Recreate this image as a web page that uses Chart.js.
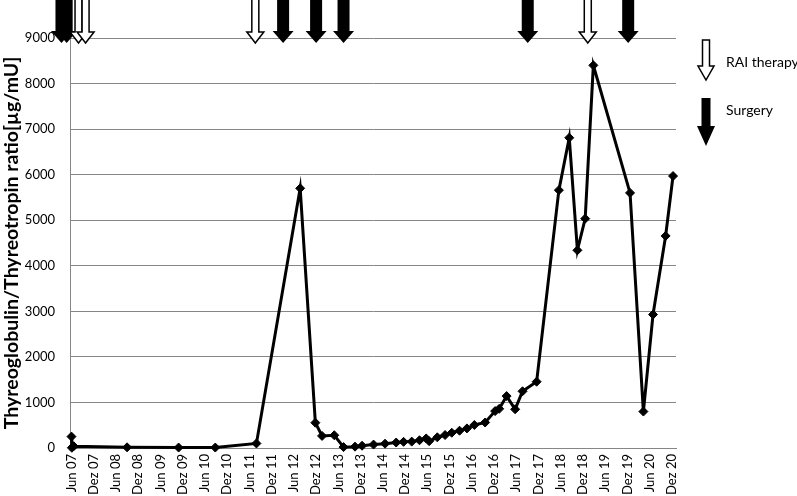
<!DOCTYPE html>
<html><head><meta charset="utf-8">
<script src="https://cdn.jsdelivr.net/npm/chart.js@4/dist/chart.umd.min.js"></script>
<style>html,body{margin:0;padding:0;background:#fff}#wrap{width:797px;height:496px;position:relative}</style>
</head><body><div id="wrap"><canvas id="c" width="797" height="496"></canvas></div>
<script>
// x values are months since June 2007
const tickMonths = [0,6,12,18,24,30,36,42,48,54,60,66,72,78,84,90,96,102,108,114,120,126,132,138,144,150,156,162];
const tickLabels = ["Jun 07","Dez 07","Jun 08","Dez 08","Jun 09","Dez 09","Jun 10","Dez 10","Jun 11","Dez 11","Jun 12","Dez 12","Jun 13","Dez 13","Jun 14","Dez 14","Jun 15","Dez 15","Jun 16","Dez 16","Jun 17","Dez 17","Jun 18","Dez 18","Jun 19","Dez 19","Jun 20","Dez 20"];
const sampleMonths = [0,0.1,0.6,15.0,28.9,38.8,49.9,61.7,65.8,67.6,70.9,73.4,76.5,78.4,81.5,84.6,87.6,89.6,91.8,93.9,95.7,96.5,98.7,100.8,102.6,104.7,106.7,108.7,111.6,114.3,115.4,117.4,119.7,121.7,125.5,131.5,134.3,136.5,138.6,140.8,150.7,154.3,156.9,160.3,162.3];
const ratioValues = [250,5,40,15,10,10,100,5700,555,265,280,20,30,50,75,95,120,135,140,170,210,150,235,285,335,380,430,505,560,810,860,1140,850,1245,1455,5660,6810,4340,5035,8400,5600,800,2930,4655,5970];
const raiMonths = [1.9,3.8,49.6,139.3];
const surgeryMonths = [-2.7,-1.3,57.1,66.0,73.4,123.1,150.2];
const legendLabels = ["RAI therapy","Surgery"];
const yTitle = "Thyreoglobulin/Thyreotropin ratio[µg/mU]";

Chart.defaults.font.family = 'Lato';
Chart.defaults.color = '#000';
const GRID = '#868686';

function drawArrow(ctx, cx, top, tip, shaftW, headW, headH, filled) {
  ctx.beginPath();
  ctx.moveTo(cx - shaftW/2, top);
  ctx.lineTo(cx + shaftW/2, top);
  ctx.lineTo(cx + shaftW/2, tip - headH);
  ctx.lineTo(cx + headW/2, tip - headH);
  ctx.lineTo(cx, tip);
  ctx.lineTo(cx - headW/2, tip - headH);
  ctx.lineTo(cx - shaftW/2, tip - headH);
  ctx.closePath();
  if (filled) { ctx.fillStyle = '#000'; ctx.fill(); }
  else { ctx.fillStyle = '#fff'; ctx.fill(); ctx.lineWidth = 1.5; ctx.strokeStyle = '#000'; ctx.stroke(); }
}

const arrowPlugin = {
  id: 'arrows',
  afterDraw(chart) {
    const ctx = chart.ctx, xs = chart.scales.x, ca = chart.chartArea;
    ctx.save();
    const tip = ca.top + 5;
    surgeryMonths.forEach(m => drawArrow(ctx, xs.getPixelForValue(m), -2, tip, 12, 21, 12, true));
    raiMonths.forEach(m => drawArrow(ctx, xs.getPixelForValue(m), -2, tip, 7, 17, 11, false));
    // legend
    const lx = ca.right + 30;
    drawArrow(ctx, lx, 40, 80, 7, 16, 14, false);
    drawArrow(ctx, lx, 98, 146, 9, 18, 20, true);
    ctx.fillStyle = '#000';
    ctx.font = '14px Lato';
    ctx.textAlign = 'left';
    ctx.textBaseline = 'middle';
    ctx.fillText(legendLabels[0], lx + 20, 62);
    ctx.fillText(legendLabels[1], lx + 20, 110);
    ctx.restore();
  }
};

new Chart(document.getElementById('c'), {
  type: 'line',
  data: {
    datasets: [{
      data: sampleMonths.map((m, i) => ({x: m, y: ratioValues[i]})),
      borderColor: '#000',
      backgroundColor: '#000',
      borderWidth: 3,
      pointStyle: 'rectRot',
      pointRadius: 4.5,
      pointBackgroundColor: '#000',
      pointBorderColor: '#000',
      pointBorderWidth: 1,
      tension: 0,
      clip: false
    }]
  },
  options: {
    responsive: false,
    animation: false,
    layout: {padding: {left: 0, top: 38, right: 121, bottom: 0}},
    plugins: {legend: {display: false}, tooltip: {enabled: false}},
    scales: {
      x: {
        type: 'linear',
        min: -0.4,
        max: 163.1,
        afterBuildTicks: (axis) => { axis.ticks = tickMonths.map(v => ({value: v})); },
        afterFit: (s) => { s.height = 48; },
        grid: {display: false, drawTicks: false, tickLength: 0},
        border: {display: true, color: GRID, width: 1},
        ticks: {
          autoSkip: false,
          minRotation: 90,
          maxRotation: 90,
          padding: 6,
          font: {size: 13},
          callback: (v) => { const i = tickMonths.indexOf(v); return i >= 0 ? tickLabels[i] : ''; }
        }
      },
      y: {
        min: 0,
        max: 9000,
        afterFit: (s) => { s.width = 70; },
        grid: {color: GRID, lineWidth: 1, drawTicks: false},
        border: {display: true, color: GRID, width: 1},
        ticks: {stepSize: 1000, padding: 15, font: {size: 13}, callback: (v) => String(v)},
        title: {display: true, text: yTitle, font: {size: 19.5, weight: 'bold'}, padding: {top: 0, bottom: 0}}
      }
    }
  },
  plugins: [arrowPlugin]
});
</script>
</body></html>
